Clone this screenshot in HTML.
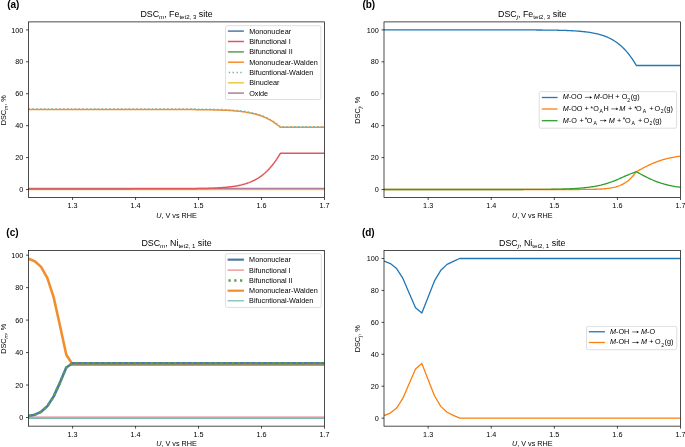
<!DOCTYPE html>
<html><head><meta charset="utf-8"><style>
html,body{margin:0;padding:0;background:#fff;width:685px;height:447px;overflow:hidden}
svg{display:block;will-change:transform}
text{font-family:"Liberation Sans", sans-serif;fill:#000}
</style></head><body>
<svg width="685" height="447" viewBox="0 0 685 447">
<defs><clipPath id="cpa"><rect x="28.5" y="21.9" width="296.00" height="175.60"/></clipPath><clipPath id="cpb"><rect x="384.0" y="21.9" width="296.50" height="175.60"/></clipPath><clipPath id="cpc"><rect x="28.5" y="250.5" width="296.00" height="175.65"/></clipPath><clipPath id="cpd"><rect x="384.0" y="250.5" width="296.50" height="175.65"/></clipPath></defs>
<rect width="685" height="447" fill="#fff"/>
<g clip-path="url(#cpa)">
<polyline points="28.50,189.04 29.76,189.04 31.02,189.04 32.28,189.04 33.54,189.04 34.80,189.04 36.06,189.04 37.32,189.04 38.58,189.04 39.84,189.04 41.10,189.04 42.36,189.04 43.61,189.04 44.87,189.04 46.13,189.04 47.39,189.04 48.65,189.04 49.91,189.04 51.17,189.04 52.43,189.04 53.69,189.04 54.95,189.04 56.21,189.04 57.47,189.04 58.73,189.04 59.99,189.04 61.25,189.04 62.51,189.04 63.77,189.04 65.03,189.04 66.29,189.04 67.55,189.04 68.81,189.04 70.07,189.04 71.33,189.04 72.59,189.04 73.84,189.04 75.10,189.04 76.36,189.04 77.62,189.04 78.88,189.04 80.14,189.04 81.40,189.04 82.66,189.04 83.92,189.04 85.18,189.04 86.44,189.04 87.70,189.04 88.96,189.04 90.22,189.04 91.48,189.04 92.74,189.04 94.00,189.04 95.26,189.04 96.52,189.04 97.78,189.04 99.04,189.04 100.30,189.04 101.56,189.04 102.81,189.04 104.07,189.04 105.33,189.04 106.59,189.04 107.85,189.04 109.11,189.04 110.37,189.04 111.63,189.04 112.89,189.04 114.15,189.04 115.41,189.04 116.67,189.04 117.93,189.04 119.19,189.04 120.45,189.04 121.71,189.04 122.97,189.04 124.23,189.04 125.49,189.04 126.75,189.04 128.01,189.04 129.27,189.04 130.53,189.04 131.79,189.04 133.04,189.04 134.30,189.04 135.56,189.04 136.82,189.04 138.08,189.04 139.34,189.04 140.60,189.04 141.86,189.04 143.12,189.04 144.38,189.04 145.64,189.04 146.90,189.04 148.16,189.04 149.42,189.04 150.68,189.04 151.94,189.04 153.20,189.04 154.46,189.04 155.72,189.04 156.98,189.04 158.24,189.04 159.50,189.04 160.76,189.04 162.01,189.04 163.27,189.04 164.53,189.04 165.79,189.04 167.05,189.04 168.31,189.04 169.57,189.04 170.83,189.04 172.09,189.04 173.35,189.04 174.61,189.04 175.87,189.04 177.13,189.04 178.39,189.04 179.65,189.04 180.91,189.04 182.17,189.04 183.43,189.04 184.69,189.04 185.95,189.04 187.21,189.04 188.47,189.04 189.73,189.04 190.99,189.04 192.24,189.04 193.50,189.04 194.76,189.04 196.02,189.04 197.28,189.04 198.54,189.04 199.80,189.04 201.06,189.04 202.32,189.04 203.58,189.04 204.84,189.04 206.10,189.04 207.36,189.04 208.62,189.04 209.88,189.04 211.14,189.04 212.40,189.04 213.66,189.04 214.92,189.04 216.18,189.04 217.44,189.04 218.70,189.04 219.96,189.04 221.21,189.04 222.47,189.04 223.73,189.04 224.99,189.04 226.25,189.04 227.51,189.04 228.77,189.04 230.03,189.04 231.29,189.04 232.55,189.04 233.81,189.04 235.07,189.04 236.33,189.04 237.59,189.04 238.85,189.04 240.11,189.04 241.37,189.04 242.63,189.04 243.89,189.04 245.15,189.04 246.41,189.04 247.67,189.04 248.93,189.04 250.19,189.04 251.44,189.04 252.70,189.04 253.96,189.04 255.22,189.04 256.48,189.04 257.74,189.04 259.00,189.04 260.26,189.04 261.52,189.04 262.78,189.04 264.04,189.04 265.30,189.04 266.56,189.04 267.82,189.04 269.08,189.04 270.34,189.04 271.60,189.04 272.86,189.04 274.12,189.04 275.38,189.04 276.64,189.04 277.90,189.04 279.16,189.04 280.41,189.04 281.67,189.04 282.93,189.04 284.19,189.04 285.45,189.04 286.71,189.04 287.97,189.04 289.23,189.04 290.49,189.04 291.75,189.04 293.01,189.04 294.27,189.04 295.53,189.04 296.79,189.04 298.05,189.04 299.31,189.04 300.57,189.04 301.83,189.04 303.09,189.04 304.35,189.04 305.61,189.04 306.87,189.04 308.13,189.04 309.39,189.04 310.64,189.04 311.90,189.04 313.16,189.04 314.42,189.04 315.68,189.04 316.94,189.04 318.20,189.04 319.46,189.04 320.72,189.04 321.98,189.04 323.24,189.04 324.50,189.04" fill="none" stroke="#4e79a7" stroke-width="1.5" stroke-linejoin="round" />
<polyline points="28.50,189.04 29.76,189.04 31.02,189.04 32.28,189.04 33.54,189.04 34.80,189.04 36.06,189.04 37.32,189.04 38.58,189.04 39.84,189.04 41.10,189.04 42.36,189.04 43.61,189.04 44.87,189.04 46.13,189.04 47.39,189.04 48.65,189.04 49.91,189.04 51.17,189.04 52.43,189.04 53.69,189.04 54.95,189.04 56.21,189.04 57.47,189.04 58.73,189.04 59.99,189.04 61.25,189.04 62.51,189.04 63.77,189.04 65.03,189.04 66.29,189.04 67.55,189.04 68.81,189.04 70.07,189.04 71.33,189.04 72.59,189.04 73.84,189.04 75.10,189.04 76.36,189.04 77.62,189.04 78.88,189.04 80.14,189.04 81.40,189.04 82.66,189.04 83.92,189.04 85.18,189.04 86.44,189.04 87.70,189.04 88.96,189.04 90.22,189.04 91.48,189.04 92.74,189.04 94.00,189.04 95.26,189.04 96.52,189.04 97.78,189.04 99.04,189.04 100.30,189.04 101.56,189.04 102.81,189.04 104.07,189.04 105.33,189.04 106.59,189.04 107.85,189.04 109.11,189.04 110.37,189.04 111.63,189.04 112.89,189.04 114.15,189.04 115.41,189.04 116.67,189.04 117.93,189.04 119.19,189.04 120.45,189.04 121.71,189.04 122.97,189.04 124.23,189.04 125.49,189.04 126.75,189.04 128.01,189.04 129.27,189.04 130.53,189.04 131.79,189.04 133.04,189.04 134.30,189.04 135.56,189.04 136.82,189.04 138.08,189.04 139.34,189.04 140.60,189.04 141.86,189.04 143.12,189.04 144.38,189.04 145.64,189.04 146.90,189.04 148.16,189.04 149.42,189.04 150.68,189.04 151.94,189.04 153.20,189.04 154.46,189.04 155.72,189.04 156.98,189.04 158.24,189.04 159.50,189.04 160.76,189.04 162.01,189.04 163.27,189.04 164.53,189.04 165.79,189.04 167.05,189.04 168.31,189.04 169.57,189.04 170.83,189.04 172.09,189.04 173.35,189.04 174.61,189.04 175.87,189.04 177.13,189.04 178.39,189.04 179.65,189.04 180.91,189.04 182.17,189.04 183.43,189.04 184.69,189.04 185.95,189.04 187.21,189.04 188.47,189.04 189.73,189.04 190.99,189.04 192.24,189.04 193.50,189.04 194.76,189.04 196.02,189.04 197.28,189.04 198.54,189.04 199.80,189.04 201.06,189.04 202.32,189.04 203.58,189.04 204.84,189.04 206.10,189.04 207.36,189.04 208.62,189.04 209.88,189.04 211.14,189.04 212.40,189.04 213.66,189.04 214.92,189.04 216.18,189.04 217.44,189.04 218.70,189.04 219.96,189.04 221.21,189.04 222.47,189.04 223.73,189.04 224.99,189.04 226.25,189.04 227.51,189.04 228.77,189.04 230.03,189.04 231.29,189.04 232.55,189.04 233.81,189.04 235.07,189.04 236.33,189.04 237.59,189.04 238.85,189.04 240.11,189.04 241.37,189.04 242.63,189.04 243.89,189.04 245.15,189.04 246.41,189.04 247.67,189.04 248.93,189.04 250.19,189.04 251.44,189.04 252.70,189.04 253.96,189.04 255.22,189.04 256.48,189.04 257.74,189.04 259.00,189.04 260.26,189.04 261.52,189.04 262.78,189.04 264.04,189.04 265.30,189.04 266.56,189.04 267.82,189.04 269.08,189.04 270.34,189.04 271.60,189.04 272.86,189.04 274.12,189.04 275.38,189.04 276.64,189.04 277.90,189.04 279.16,189.04 280.41,189.04 281.67,189.04 282.93,189.04 284.19,189.04 285.45,189.04 286.71,189.04 287.97,189.04 289.23,189.04 290.49,189.04 291.75,189.04 293.01,189.04 294.27,189.04 295.53,189.04 296.79,189.04 298.05,189.04 299.31,189.04 300.57,189.04 301.83,189.04 303.09,189.04 304.35,189.04 305.61,189.04 306.87,189.04 308.13,189.04 309.39,189.04 310.64,189.04 311.90,189.04 313.16,189.04 314.42,189.04 315.68,189.04 316.94,189.04 318.20,189.04 319.46,189.04 320.72,189.04 321.98,189.04 323.24,189.04 324.50,189.04" fill="none" stroke="#59a14f" stroke-width="1.5" stroke-linejoin="round" />
<polyline points="28.50,189.60 29.76,189.60 31.02,189.60 32.28,189.60 33.54,189.60 34.80,189.60 36.06,189.60 37.32,189.60 38.58,189.60 39.84,189.60 41.10,189.60 42.36,189.60 43.61,189.60 44.87,189.60 46.13,189.60 47.39,189.60 48.65,189.60 49.91,189.60 51.17,189.60 52.43,189.60 53.69,189.60 54.95,189.60 56.21,189.60 57.47,189.60 58.73,189.60 59.99,189.60 61.25,189.60 62.51,189.60 63.77,189.60 65.03,189.60 66.29,189.60 67.55,189.60 68.81,189.60 70.07,189.60 71.33,189.60 72.59,189.60 73.84,189.60 75.10,189.60 76.36,189.60 77.62,189.60 78.88,189.60 80.14,189.60 81.40,189.60 82.66,189.60 83.92,189.60 85.18,189.60 86.44,189.60 87.70,189.60 88.96,189.60 90.22,189.60 91.48,189.60 92.74,189.60 94.00,189.60 95.26,189.60 96.52,189.60 97.78,189.60 99.04,189.60 100.30,189.60 101.56,189.60 102.81,189.60 104.07,189.60 105.33,189.60 106.59,189.60 107.85,189.60 109.11,189.60 110.37,189.60 111.63,189.60 112.89,189.60 114.15,189.60 115.41,189.60 116.67,189.60 117.93,189.60 119.19,189.60 120.45,189.60 121.71,189.60 122.97,189.60 124.23,189.60 125.49,189.60 126.75,189.60 128.01,189.60 129.27,189.60 130.53,189.60 131.79,189.60 133.04,189.60 134.30,189.60 135.56,189.60 136.82,189.60 138.08,189.60 139.34,189.60 140.60,189.60 141.86,189.60 143.12,189.60 144.38,189.60 145.64,189.60 146.90,189.60 148.16,189.60 149.42,189.60 150.68,189.60 151.94,189.60 153.20,189.60 154.46,189.60 155.72,189.60 156.98,189.60 158.24,189.60 159.50,189.60 160.76,189.60 162.01,189.60 163.27,189.60 164.53,189.60 165.79,189.60 167.05,189.60 168.31,189.60 169.57,189.60 170.83,189.60 172.09,189.60 173.35,189.60 174.61,189.60 175.87,189.60 177.13,189.60 178.39,189.60 179.65,189.60 180.91,189.60 182.17,189.60 183.43,189.60 184.69,189.60 185.95,189.60 187.21,189.60 188.47,189.60 189.73,189.60 190.99,189.60 192.24,189.60 193.50,189.60 194.76,189.60 196.02,189.60 197.28,189.60 198.54,189.60 199.80,189.60 201.06,189.60 202.32,189.60 203.58,189.60 204.84,189.60 206.10,189.60 207.36,189.60 208.62,189.60 209.88,189.60 211.14,189.60 212.40,189.60 213.66,189.60 214.92,189.60 216.18,189.60 217.44,189.60 218.70,189.60 219.96,189.60 221.21,189.60 222.47,189.60 223.73,189.60 224.99,189.60 226.25,189.60 227.51,189.60 228.77,189.60 230.03,189.60 231.29,189.60 232.55,189.60 233.81,189.60 235.07,189.60 236.33,189.60 237.59,189.60 238.85,189.60 240.11,189.60 241.37,189.60 242.63,189.60 243.89,189.60 245.15,189.60 246.41,189.60 247.67,189.60 248.93,189.60 250.19,189.60 251.44,189.60 252.70,189.60 253.96,189.60 255.22,189.60 256.48,189.60 257.74,189.60 259.00,189.60 260.26,189.60 261.52,189.60 262.78,189.60 264.04,189.60 265.30,189.60 266.56,189.60 267.82,189.60 269.08,189.60 270.34,189.60 271.60,189.60 272.86,189.60 274.12,189.60 275.38,189.60 276.64,189.60 277.90,189.60 279.16,189.60 280.41,189.60 281.67,189.60 282.93,189.60 284.19,189.60 285.45,189.60 286.71,189.60 287.97,189.60 289.23,189.60 290.49,189.60 291.75,189.60 293.01,189.60 294.27,189.60 295.53,189.60 296.79,189.60 298.05,189.60 299.31,189.60 300.57,189.60 301.83,189.60 303.09,189.60 304.35,189.60 305.61,189.60 306.87,189.60 308.13,189.60 309.39,189.60 310.64,189.60 311.90,189.60 313.16,189.60 314.42,189.60 315.68,189.60 316.94,189.60 318.20,189.60 319.46,189.60 320.72,189.60 321.98,189.60 323.24,189.60 324.50,189.60" fill="none" stroke="#edc948" stroke-width="1.5" stroke-linejoin="round" />
<polyline points="28.50,188.40 29.76,188.40 31.02,188.40 32.28,188.40 33.54,188.40 34.80,188.40 36.06,188.40 37.32,188.40 38.58,188.40 39.84,188.40 41.10,188.40 42.36,188.40 43.61,188.40 44.87,188.40 46.13,188.40 47.39,188.40 48.65,188.40 49.91,188.40 51.17,188.40 52.43,188.40 53.69,188.40 54.95,188.40 56.21,188.40 57.47,188.40 58.73,188.40 59.99,188.40 61.25,188.40 62.51,188.40 63.77,188.40 65.03,188.40 66.29,188.40 67.55,188.40 68.81,188.40 70.07,188.40 71.33,188.40 72.59,188.40 73.84,188.40 75.10,188.40 76.36,188.40 77.62,188.40 78.88,188.40 80.14,188.40 81.40,188.40 82.66,188.40 83.92,188.40 85.18,188.40 86.44,188.40 87.70,188.40 88.96,188.40 90.22,188.40 91.48,188.40 92.74,188.40 94.00,188.40 95.26,188.40 96.52,188.40 97.78,188.40 99.04,188.40 100.30,188.40 101.56,188.40 102.81,188.40 104.07,188.40 105.33,188.40 106.59,188.40 107.85,188.40 109.11,188.40 110.37,188.40 111.63,188.40 112.89,188.40 114.15,188.40 115.41,188.40 116.67,188.40 117.93,188.40 119.19,188.40 120.45,188.40 121.71,188.40 122.97,188.40 124.23,188.40 125.49,188.40 126.75,188.40 128.01,188.40 129.27,188.40 130.53,188.40 131.79,188.40 133.04,188.40 134.30,188.40 135.56,188.40 136.82,188.40 138.08,188.40 139.34,188.40 140.60,188.40 141.86,188.40 143.12,188.40 144.38,188.40 145.64,188.40 146.90,188.40 148.16,188.40 149.42,188.40 150.68,188.40 151.94,188.40 153.20,188.40 154.46,188.40 155.72,188.40 156.98,188.40 158.24,188.40 159.50,188.40 160.76,188.40 162.01,188.40 163.27,188.40 164.53,188.40 165.79,188.40 167.05,188.40 168.31,188.40 169.57,188.40 170.83,188.40 172.09,188.40 173.35,188.40 174.61,188.40 175.87,188.40 177.13,188.40 178.39,188.40 179.65,188.40 180.91,188.40 182.17,188.40 183.43,188.40 184.69,188.40 185.95,188.40 187.21,188.40 188.47,188.40 189.73,188.40 190.99,188.40 192.24,188.40 193.50,188.40 194.76,188.40 196.02,188.40 197.28,188.40 198.54,188.40 199.80,188.40 201.06,188.40 202.32,188.40 203.58,188.40 204.84,188.40 206.10,188.40 207.36,188.40 208.62,188.40 209.88,188.40 211.14,188.40 212.40,188.40 213.66,188.40 214.92,188.40 216.18,188.40 217.44,188.40 218.70,188.40 219.96,188.40 221.21,188.40 222.47,188.40 223.73,188.40 224.99,188.40 226.25,188.40 227.51,188.40 228.77,188.40 230.03,188.40 231.29,188.40 232.55,188.40 233.81,188.40 235.07,188.40 236.33,188.40 237.59,188.40 238.85,188.40 240.11,188.40 241.37,188.40 242.63,188.40 243.89,188.40 245.15,188.40 246.41,188.40 247.67,188.40 248.93,188.40 250.19,188.40 251.44,188.40 252.70,188.40 253.96,188.40 255.22,188.40 256.48,188.40 257.74,188.40 259.00,188.40 260.26,188.40 261.52,188.40 262.78,188.40 264.04,188.40 265.30,188.40 266.56,188.40 267.82,188.40 269.08,188.40 270.34,188.40 271.60,188.40 272.86,188.40 274.12,188.40 275.38,188.40 276.64,188.40 277.90,188.40 279.16,188.40 280.41,188.40 281.67,188.40 282.93,188.40 284.19,188.40 285.45,188.40 286.71,188.40 287.97,188.40 289.23,188.40 290.49,188.40 291.75,188.40 293.01,188.40 294.27,188.40 295.53,188.40 296.79,188.40 298.05,188.40 299.31,188.40 300.57,188.40 301.83,188.40 303.09,188.40 304.35,188.40 305.61,188.40 306.87,188.40 308.13,188.40 309.39,188.40 310.64,188.40 311.90,188.40 313.16,188.40 314.42,188.40 315.68,188.40 316.94,188.40 318.20,188.40 319.46,188.40 320.72,188.40 321.98,188.40 323.24,188.40 324.50,188.40" fill="none" stroke="#b07aa1" stroke-width="1.5" stroke-linejoin="round" />
<polyline points="28.50,188.88 29.76,188.88 31.02,188.88 32.28,188.88 33.54,188.88 34.80,188.88 36.06,188.88 37.32,188.88 38.58,188.88 39.84,188.88 41.10,188.88 42.36,188.88 43.61,188.88 44.87,188.88 46.13,188.88 47.39,188.88 48.65,188.88 49.91,188.88 51.17,188.88 52.43,188.88 53.69,188.88 54.95,188.88 56.21,188.88 57.47,188.88 58.73,188.88 59.99,188.88 61.25,188.88 62.51,188.88 63.77,188.88 65.03,188.88 66.29,188.88 67.55,188.88 68.81,188.88 70.07,188.88 71.33,188.88 72.59,188.88 73.84,188.88 75.10,188.88 76.36,188.88 77.62,188.88 78.88,188.88 80.14,188.88 81.40,188.88 82.66,188.88 83.92,188.88 85.18,188.88 86.44,188.88 87.70,188.88 88.96,188.88 90.22,188.88 91.48,188.88 92.74,188.88 94.00,188.88 95.26,188.88 96.52,188.88 97.78,188.88 99.04,188.88 100.30,188.88 101.56,188.88 102.81,188.88 104.07,188.88 105.33,188.88 106.59,188.88 107.85,188.88 109.11,188.88 110.37,188.88 111.63,188.88 112.89,188.88 114.15,188.88 115.41,188.88 116.67,188.88 117.93,188.88 119.19,188.88 120.45,188.88 121.71,188.88 122.97,188.88 124.23,188.88 125.49,188.88 126.75,188.88 128.01,188.88 129.27,188.88 130.53,188.88 131.79,188.87 133.04,188.87 134.30,188.87 135.56,188.87 136.82,188.87 138.08,188.87 139.34,188.87 140.60,188.87 141.86,188.87 143.12,188.87 144.38,188.87 145.64,188.87 146.90,188.87 148.16,188.87 149.42,188.87 150.68,188.86 151.94,188.86 153.20,188.86 154.46,188.86 155.72,188.86 156.98,188.86 158.24,188.86 159.50,188.85 160.76,188.85 162.01,188.85 163.27,188.85 164.53,188.84 165.79,188.84 167.05,188.84 168.31,188.83 169.57,188.83 170.83,188.83 172.09,188.82 173.35,188.82 174.61,188.81 175.87,188.81 177.13,188.80 178.39,188.80 179.65,188.79 180.91,188.78 182.17,188.77 183.43,188.77 184.69,188.76 185.95,188.75 187.21,188.73 188.47,188.72 189.73,188.71 190.99,188.70 192.24,188.68 193.50,188.67 194.76,188.65 196.02,188.63 197.28,188.61 198.54,188.59 199.80,188.57 201.06,188.54 202.32,188.51 203.58,188.48 204.84,188.45 206.10,188.42 207.36,188.38 208.62,188.34 209.88,188.29 211.14,188.25 212.40,188.20 213.66,188.14 214.92,188.08 216.18,188.02 217.44,187.95 218.70,187.87 219.96,187.79 221.21,187.71 222.47,187.61 223.73,187.51 224.99,187.40 226.25,187.28 227.51,187.15 228.77,187.01 230.03,186.87 231.29,186.71 232.55,186.53 233.81,186.35 235.07,186.14 236.33,185.93 237.59,185.69 238.85,185.44 240.11,185.17 241.37,184.88 242.63,184.56 243.89,184.22 245.15,183.86 246.41,183.46 247.67,183.04 248.93,182.59 250.19,182.10 251.44,181.58 252.70,181.01 253.96,180.41 255.22,179.77 256.48,179.07 257.74,178.33 259.00,177.54 260.26,176.69 261.52,175.79 262.78,174.82 264.04,173.79 265.30,172.69 266.56,171.53 267.82,170.29 269.08,168.97 270.34,167.57 271.60,166.10 272.86,164.53 274.12,162.89 275.38,161.15 276.64,159.32 277.90,157.40 279.16,155.39 280.41,153.28 281.67,153.28 282.93,153.28 284.19,153.28 285.45,153.28 286.71,153.28 287.97,153.28 289.23,153.28 290.49,153.28 291.75,153.28 293.01,153.28 294.27,153.28 295.53,153.28 296.79,153.28 298.05,153.28 299.31,153.28 300.57,153.28 301.83,153.28 303.09,153.28 304.35,153.28 305.61,153.28 306.87,153.28 308.13,153.28 309.39,153.28 310.64,153.28 311.90,153.28 313.16,153.28 314.42,153.28 315.68,153.28 316.94,153.28 318.20,153.28 319.46,153.28 320.72,153.28 321.98,153.28 323.24,153.28 324.50,153.28" fill="none" stroke="#e15759" stroke-width="1.5" stroke-linejoin="round" />
<polyline points="28.50,109.51 29.76,109.51 31.02,109.51 32.28,109.51 33.54,109.51 34.80,109.51 36.06,109.51 37.32,109.51 38.58,109.51 39.84,109.51 41.10,109.51 42.36,109.51 43.61,109.51 44.87,109.51 46.13,109.51 47.39,109.51 48.65,109.51 49.91,109.51 51.17,109.51 52.43,109.51 53.69,109.51 54.95,109.51 56.21,109.51 57.47,109.51 58.73,109.51 59.99,109.51 61.25,109.51 62.51,109.51 63.77,109.51 65.03,109.51 66.29,109.51 67.55,109.51 68.81,109.51 70.07,109.51 71.33,109.51 72.59,109.51 73.84,109.51 75.10,109.51 76.36,109.51 77.62,109.51 78.88,109.51 80.14,109.51 81.40,109.51 82.66,109.51 83.92,109.51 85.18,109.51 86.44,109.51 87.70,109.51 88.96,109.51 90.22,109.51 91.48,109.51 92.74,109.51 94.00,109.51 95.26,109.51 96.52,109.51 97.78,109.51 99.04,109.51 100.30,109.51 101.56,109.51 102.81,109.51 104.07,109.51 105.33,109.51 106.59,109.51 107.85,109.51 109.11,109.51 110.37,109.51 111.63,109.51 112.89,109.51 114.15,109.51 115.41,109.51 116.67,109.51 117.93,109.51 119.19,109.51 120.45,109.51 121.71,109.51 122.97,109.51 124.23,109.51 125.49,109.51 126.75,109.51 128.01,109.51 129.27,109.51 130.53,109.51 131.79,109.51 133.04,109.51 134.30,109.51 135.56,109.51 136.82,109.51 138.08,109.51 139.34,109.51 140.60,109.51 141.86,109.51 143.12,109.51 144.38,109.51 145.64,109.51 146.90,109.51 148.16,109.51 149.42,109.52 150.68,109.52 151.94,109.52 153.20,109.52 154.46,109.52 155.72,109.52 156.98,109.52 158.24,109.52 159.50,109.52 160.76,109.52 162.01,109.52 163.27,109.52 164.53,109.53 165.79,109.53 167.05,109.53 168.31,109.53 169.57,109.53 170.83,109.53 172.09,109.54 173.35,109.54 174.61,109.54 175.87,109.54 177.13,109.55 178.39,109.55 179.65,109.55 180.91,109.56 182.17,109.56 183.43,109.57 184.69,109.57 185.95,109.58 187.21,109.58 188.47,109.59 189.73,109.59 190.99,109.60 192.24,109.61 193.50,109.62 194.76,109.62 196.02,109.63 197.28,109.64 198.54,109.65 199.80,109.67 201.06,109.68 202.32,109.69 203.58,109.71 204.84,109.72 206.10,109.74 207.36,109.76 208.62,109.78 209.88,109.80 211.14,109.82 212.40,109.85 213.66,109.88 214.92,109.91 216.18,109.94 217.44,109.97 218.70,110.01 219.96,110.05 221.21,110.10 222.47,110.14 223.73,110.19 224.99,110.25 226.25,110.31 227.51,110.37 228.77,110.44 230.03,110.52 231.29,110.60 232.55,110.68 233.81,110.78 235.07,110.88 236.33,110.99 237.59,111.10 238.85,111.23 240.11,111.36 241.37,111.51 242.63,111.67 243.89,111.84 245.15,112.02 246.41,112.22 247.67,112.43 248.93,112.65 250.19,112.90 251.44,113.16 252.70,113.44 253.96,113.74 255.22,114.07 256.48,114.41 257.74,114.78 259.00,115.18 260.26,115.60 261.52,116.05 262.78,116.54 264.04,117.05 265.30,117.60 266.56,118.18 267.82,118.81 269.08,119.46 270.34,120.16 271.60,120.90 272.86,121.68 274.12,122.51 275.38,123.37 276.64,124.29 277.90,125.25 279.16,126.26 280.41,127.31 281.67,127.31 282.93,127.31 284.19,127.31 285.45,127.31 286.71,127.31 287.97,127.31 289.23,127.31 290.49,127.31 291.75,127.31 293.01,127.31 294.27,127.31 295.53,127.31 296.79,127.31 298.05,127.31 299.31,127.31 300.57,127.31 301.83,127.31 303.09,127.31 304.35,127.31 305.61,127.31 306.87,127.31 308.13,127.31 309.39,127.31 310.64,127.31 311.90,127.31 313.16,127.31 314.42,127.31 315.68,127.31 316.94,127.31 318.20,127.31 319.46,127.31 320.72,127.31 321.98,127.31 323.24,127.31 324.50,127.31" fill="none" stroke="#f28e2b" stroke-width="1.5" stroke-linejoin="round" />
<polyline points="28.50,108.98 29.76,108.98 31.02,108.98 32.28,108.98 33.54,108.98 34.80,108.98 36.06,108.98 37.32,108.98 38.58,108.98 39.84,108.98 41.10,108.98 42.36,108.98 43.61,108.98 44.87,108.98 46.13,108.98 47.39,108.98 48.65,108.98 49.91,108.98 51.17,108.98 52.43,108.98 53.69,108.98 54.95,108.98 56.21,108.98 57.47,108.98 58.73,108.98 59.99,108.98 61.25,108.98 62.51,108.98 63.77,108.98 65.03,108.98 66.29,108.98 67.55,108.98 68.81,108.98 70.07,108.98 71.33,108.98 72.59,108.98 73.84,108.98 75.10,108.98 76.36,108.98 77.62,108.98 78.88,108.98 80.14,108.98 81.40,108.98 82.66,108.98 83.92,108.98 85.18,108.98 86.44,108.98 87.70,108.98 88.96,108.98 90.22,108.98 91.48,108.98 92.74,108.98 94.00,108.98 95.26,108.98 96.52,108.98 97.78,108.98 99.04,108.98 100.30,108.98 101.56,108.98 102.81,108.98 104.07,108.98 105.33,108.98 106.59,108.98 107.85,108.98 109.11,108.98 110.37,108.98 111.63,108.98 112.89,108.98 114.15,108.98 115.41,108.98 116.67,108.98 117.93,108.98 119.19,108.98 120.45,108.98 121.71,108.98 122.97,108.98 124.23,108.98 125.49,108.98 126.75,108.98 128.01,108.98 129.27,108.98 130.53,108.98 131.79,108.98 133.04,108.98 134.30,108.98 135.56,108.98 136.82,108.98 138.08,108.99 139.34,108.99 140.60,108.99 141.86,108.99 143.12,108.99 144.38,108.99 145.64,108.99 146.90,108.99 148.16,108.99 149.42,108.99 150.68,108.99 151.94,108.99 153.20,108.99 154.46,108.99 155.72,108.99 156.98,108.99 158.24,108.99 159.50,108.99 160.76,109.00 162.01,109.00 163.27,109.00 164.53,109.00 165.79,109.00 167.05,109.00 168.31,109.00 169.57,109.01 170.83,109.01 172.09,109.01 173.35,109.01 174.61,109.01 175.87,109.02 177.13,109.02 178.39,109.02 179.65,109.03 180.91,109.03 182.17,109.03 183.43,109.04 184.69,109.04 185.95,109.05 187.21,109.05 188.47,109.06 189.73,109.07 190.99,109.07 192.24,109.08 193.50,109.09 194.76,109.10 196.02,109.11 197.28,109.12 198.54,109.13 199.80,109.14 201.06,109.15 202.32,109.17 203.58,109.18 204.84,109.20 206.10,109.21 207.36,109.23 208.62,109.25 209.88,109.27 211.14,109.30 212.40,109.32 213.66,109.35 214.92,109.38 216.18,109.41 217.44,109.45 218.70,109.48 219.96,109.53 221.21,109.57 222.47,109.62 223.73,109.67 224.99,109.72 226.25,109.78 227.51,109.84 228.77,109.91 230.03,109.99 231.29,110.07 232.55,110.16 233.81,110.25 235.07,110.35 236.33,110.46 237.59,110.58 238.85,110.70 240.11,110.84 241.37,110.98 242.63,111.14 243.89,111.31 245.15,111.49 246.41,111.69 247.67,111.90 248.93,112.13 250.19,112.37 251.44,112.63 252.70,112.91 253.96,113.22 255.22,113.54 256.48,113.88 257.74,114.26 259.00,114.65 260.26,115.08 261.52,115.53 262.78,116.01 264.04,116.53 265.30,117.07 266.56,117.66 267.82,118.28 269.08,118.94 270.34,119.63 271.60,120.37 272.86,121.15 274.12,121.98 275.38,122.85 276.64,123.76 277.90,124.72 279.16,125.73 280.41,126.78 281.67,126.78 282.93,126.78 284.19,126.78 285.45,126.78 286.71,126.78 287.97,126.78 289.23,126.78 290.49,126.78 291.75,126.78 293.01,126.78 294.27,126.78 295.53,126.78 296.79,126.78 298.05,126.78 299.31,126.78 300.57,126.78 301.83,126.78 303.09,126.78 304.35,126.78 305.61,126.78 306.87,126.78 308.13,126.78 309.39,126.78 310.64,126.78 311.90,126.78 313.16,126.78 314.42,126.78 315.68,126.78 316.94,126.78 318.20,126.78 319.46,126.78 320.72,126.78 321.98,126.78 323.24,126.78 324.50,126.78" fill="none" stroke="#76b7b2" stroke-width="1.5" stroke-linejoin="round" stroke-dasharray="1.45 2.4"/>
</g>
<g clip-path="url(#cpb)">
<polyline points="384.00,29.88 385.26,29.88 386.52,29.88 387.79,29.88 389.05,29.88 390.31,29.88 391.57,29.88 392.83,29.88 394.09,29.88 395.36,29.88 396.62,29.88 397.88,29.88 399.14,29.88 400.40,29.88 401.66,29.88 402.93,29.88 404.19,29.88 405.45,29.88 406.71,29.88 407.97,29.88 409.23,29.88 410.50,29.88 411.76,29.88 413.02,29.88 414.28,29.88 415.54,29.88 416.80,29.88 418.07,29.88 419.33,29.88 420.59,29.88 421.85,29.88 423.11,29.88 424.37,29.88 425.64,29.88 426.90,29.88 428.16,29.88 429.42,29.88 430.68,29.88 431.94,29.88 433.21,29.88 434.47,29.88 435.73,29.88 436.99,29.88 438.25,29.88 439.51,29.88 440.78,29.88 442.04,29.88 443.30,29.88 444.56,29.88 445.82,29.88 447.09,29.88 448.35,29.88 449.61,29.88 450.87,29.88 452.13,29.88 453.39,29.88 454.66,29.88 455.92,29.88 457.18,29.88 458.44,29.88 459.70,29.88 460.96,29.88 462.23,29.88 463.49,29.88 464.75,29.88 466.01,29.88 467.27,29.88 468.53,29.88 469.80,29.88 471.06,29.88 472.32,29.88 473.58,29.88 474.84,29.88 476.10,29.88 477.37,29.88 478.63,29.88 479.89,29.88 481.15,29.89 482.41,29.89 483.67,29.89 484.94,29.89 486.20,29.89 487.46,29.89 488.72,29.89 489.98,29.89 491.24,29.89 492.51,29.89 493.77,29.89 495.03,29.89 496.29,29.89 497.55,29.89 498.81,29.89 500.08,29.89 501.34,29.89 502.60,29.89 503.86,29.89 505.12,29.90 506.39,29.90 507.65,29.90 508.91,29.90 510.17,29.90 511.43,29.90 512.69,29.90 513.96,29.91 515.22,29.91 516.48,29.91 517.74,29.91 519.00,29.91 520.26,29.92 521.53,29.92 522.79,29.92 524.05,29.93 525.31,29.93 526.57,29.93 527.83,29.94 529.10,29.94 530.36,29.95 531.62,29.95 532.88,29.96 534.14,29.97 535.40,29.97 536.67,29.98 537.93,29.99 539.19,30.00 540.45,30.01 541.71,30.02 542.97,30.03 544.24,30.04 545.50,30.05 546.76,30.06 548.02,30.08 549.28,30.10 550.54,30.11 551.81,30.13 553.07,30.15 554.33,30.17 555.59,30.20 556.85,30.22 558.11,30.25 559.38,30.28 560.64,30.31 561.90,30.35 563.16,30.38 564.42,30.42 565.69,30.47 566.95,30.51 568.21,30.57 569.47,30.62 570.73,30.68 571.99,30.74 573.26,30.81 574.52,30.89 575.78,30.97 577.04,31.06 578.30,31.15 579.56,31.25 580.83,31.36 582.09,31.48 583.35,31.61 584.61,31.75 585.87,31.90 587.13,32.06 588.40,32.23 589.66,32.42 590.92,32.62 592.18,32.84 593.44,33.07 594.70,33.32 595.97,33.59 597.23,33.89 598.49,34.20 599.75,34.54 601.01,34.91 602.27,35.30 603.54,35.72 604.80,36.17 606.06,36.66 607.32,37.19 608.58,37.75 609.84,38.35 611.11,39.00 612.37,39.69 613.63,40.43 614.89,41.22 616.15,42.07 617.41,42.97 618.68,43.94 619.94,44.97 621.20,46.07 622.46,47.23 623.72,48.47 624.99,49.79 626.25,51.19 627.51,52.67 628.77,54.23 630.03,55.88 631.29,57.61 632.56,59.44 633.82,61.36 635.08,63.38 636.34,65.48 637.60,65.48 638.86,65.48 640.13,65.48 641.39,65.48 642.65,65.48 643.91,65.48 645.17,65.48 646.43,65.48 647.70,65.48 648.96,65.48 650.22,65.48 651.48,65.48 652.74,65.48 654.00,65.48 655.27,65.48 656.53,65.48 657.79,65.48 659.05,65.48 660.31,65.48 661.57,65.48 662.84,65.48 664.10,65.48 665.36,65.48 666.62,65.48 667.88,65.48 669.14,65.48 670.41,65.48 671.67,65.48 672.93,65.48 674.19,65.48 675.45,65.48 676.71,65.48 677.98,65.48 679.24,65.48 680.50,65.48" fill="none" stroke="#1f77b4" stroke-width="1.3" stroke-linejoin="round" />
<polyline points="384.00,189.52 385.26,189.52 386.52,189.52 387.79,189.52 389.05,189.52 390.31,189.52 391.57,189.52 392.83,189.52 394.09,189.52 395.36,189.52 396.62,189.52 397.88,189.52 399.14,189.52 400.40,189.52 401.66,189.52 402.93,189.52 404.19,189.52 405.45,189.52 406.71,189.52 407.97,189.52 409.23,189.52 410.50,189.52 411.76,189.52 413.02,189.52 414.28,189.52 415.54,189.52 416.80,189.52 418.07,189.52 419.33,189.52 420.59,189.52 421.85,189.52 423.11,189.52 424.37,189.52 425.64,189.52 426.90,189.52 428.16,189.52 429.42,189.52 430.68,189.52 431.94,189.52 433.21,189.52 434.47,189.52 435.73,189.52 436.99,189.52 438.25,189.52 439.51,189.52 440.78,189.52 442.04,189.52 443.30,189.52 444.56,189.52 445.82,189.52 447.09,189.52 448.35,189.52 449.61,189.52 450.87,189.52 452.13,189.52 453.39,189.52 454.66,189.52 455.92,189.52 457.18,189.52 458.44,189.52 459.70,189.52 460.96,189.52 462.23,189.52 463.49,189.52 464.75,189.52 466.01,189.52 467.27,189.52 468.53,189.52 469.80,189.52 471.06,189.52 472.32,189.52 473.58,189.52 474.84,189.52 476.10,189.52 477.37,189.52 478.63,189.52 479.89,189.52 481.15,189.52 482.41,189.52 483.67,189.52 484.94,189.52 486.20,189.52 487.46,189.52 488.72,189.52 489.98,189.52 491.24,189.52 492.51,189.52 493.77,189.52 495.03,189.52 496.29,189.52 497.55,189.52 498.81,189.52 500.08,189.52 501.34,189.52 502.60,189.52 503.86,189.52 505.12,189.52 506.39,189.52 507.65,189.52 508.91,189.52 510.17,189.52 511.43,189.52 512.69,189.52 513.96,189.52 515.22,189.52 516.48,189.52 517.74,189.52 519.00,189.52 520.26,189.52 521.53,189.52 522.79,189.52 524.05,189.52 525.31,189.52 526.57,189.52 527.83,189.52 529.10,189.52 530.36,189.52 531.62,189.52 532.88,189.52 534.14,189.52 535.40,189.52 536.67,189.52 537.93,189.52 539.19,189.52 540.45,189.52 541.71,189.52 542.97,189.52 544.24,189.52 545.50,189.52 546.76,189.52 548.02,189.52 549.28,189.52 550.54,189.52 551.81,189.52 553.07,189.52 554.33,189.52 555.59,189.52 556.85,189.52 558.11,189.52 559.38,189.51 560.64,189.51 561.90,189.51 563.16,189.51 564.42,189.51 565.69,189.51 566.95,189.51 568.21,189.51 569.47,189.51 570.73,189.50 571.99,189.50 573.26,189.50 574.52,189.50 575.78,189.49 577.04,189.49 578.30,189.48 579.56,189.48 580.83,189.47 582.09,189.46 583.35,189.45 584.61,189.44 585.87,189.43 587.13,189.42 588.40,189.40 589.66,189.38 590.92,189.36 592.18,189.34 593.44,189.31 594.70,189.27 595.97,189.23 597.23,189.19 598.49,189.14 599.75,189.08 601.01,189.01 602.27,188.93 603.54,188.84 604.80,188.73 606.06,188.61 607.32,188.47 608.58,188.32 609.84,188.14 611.11,187.93 612.37,187.70 613.63,187.43 614.89,187.13 616.15,186.79 617.41,186.41 618.68,185.98 619.94,185.49 621.20,184.95 622.46,184.34 623.72,183.67 624.99,182.91 626.25,182.08 627.51,181.15 628.77,180.14 630.03,179.02 631.29,177.79 632.56,176.45 633.82,175.00 635.08,173.42 636.34,171.72 637.60,171.03 638.86,170.34 640.13,169.65 641.39,168.97 642.65,168.30 643.91,167.64 645.17,166.99 646.43,166.35 647.70,165.73 648.96,165.12 650.22,164.54 651.48,163.97 652.74,163.41 654.00,162.88 655.27,162.37 656.53,161.88 657.79,161.41 659.05,160.96 660.31,160.53 661.57,160.12 662.84,159.73 664.10,159.36 665.36,159.02 666.62,158.68 667.88,158.37 669.14,158.08 670.41,157.80 671.67,157.54 672.93,157.29 674.19,157.06 675.45,156.85 676.71,156.65 677.98,156.46 679.24,156.28 680.50,156.11" fill="none" stroke="#ff7f0e" stroke-width="1.3" stroke-linejoin="round" />
<polyline points="384.00,189.52 385.26,189.52 386.52,189.52 387.79,189.52 389.05,189.52 390.31,189.52 391.57,189.52 392.83,189.52 394.09,189.52 395.36,189.52 396.62,189.52 397.88,189.52 399.14,189.52 400.40,189.52 401.66,189.52 402.93,189.52 404.19,189.52 405.45,189.52 406.71,189.52 407.97,189.52 409.23,189.52 410.50,189.52 411.76,189.52 413.02,189.52 414.28,189.52 415.54,189.52 416.80,189.52 418.07,189.52 419.33,189.52 420.59,189.52 421.85,189.52 423.11,189.52 424.37,189.52 425.64,189.52 426.90,189.52 428.16,189.52 429.42,189.52 430.68,189.52 431.94,189.52 433.21,189.52 434.47,189.52 435.73,189.52 436.99,189.52 438.25,189.52 439.51,189.52 440.78,189.52 442.04,189.52 443.30,189.52 444.56,189.52 445.82,189.52 447.09,189.52 448.35,189.52 449.61,189.52 450.87,189.52 452.13,189.52 453.39,189.52 454.66,189.52 455.92,189.52 457.18,189.52 458.44,189.52 459.70,189.52 460.96,189.52 462.23,189.52 463.49,189.52 464.75,189.52 466.01,189.52 467.27,189.52 468.53,189.52 469.80,189.52 471.06,189.52 472.32,189.52 473.58,189.52 474.84,189.52 476.10,189.52 477.37,189.52 478.63,189.52 479.89,189.52 481.15,189.51 482.41,189.51 483.67,189.51 484.94,189.51 486.20,189.51 487.46,189.51 488.72,189.51 489.98,189.51 491.24,189.51 492.51,189.51 493.77,189.51 495.03,189.51 496.29,189.51 497.55,189.51 498.81,189.51 500.08,189.51 501.34,189.51 502.60,189.51 503.86,189.51 505.12,189.50 506.39,189.50 507.65,189.50 508.91,189.50 510.17,189.50 511.43,189.50 512.69,189.50 513.96,189.49 515.22,189.49 516.48,189.49 517.74,189.49 519.00,189.49 520.26,189.48 521.53,189.48 522.79,189.48 524.05,189.47 525.31,189.47 526.57,189.47 527.83,189.46 529.10,189.46 530.36,189.45 531.62,189.45 532.88,189.44 534.14,189.43 535.40,189.43 536.67,189.42 537.93,189.41 539.19,189.40 540.45,189.39 541.71,189.38 542.97,189.37 544.24,189.36 545.50,189.35 546.76,189.34 548.02,189.32 549.28,189.31 550.54,189.29 551.81,189.27 553.07,189.25 554.33,189.23 555.59,189.21 556.85,189.18 558.11,189.15 559.38,189.12 560.64,189.09 561.90,189.06 563.16,189.02 564.42,188.98 565.69,188.94 566.95,188.89 568.21,188.84 569.47,188.79 570.73,188.73 571.99,188.67 573.26,188.61 574.52,188.53 575.78,188.46 577.04,188.37 578.30,188.28 579.56,188.19 580.83,188.08 582.09,187.97 583.35,187.85 584.61,187.73 585.87,187.59 587.13,187.44 588.40,187.29 589.66,187.12 590.92,186.94 592.18,186.75 593.44,186.54 594.70,186.32 595.97,186.09 597.23,185.84 598.49,185.58 599.75,185.30 601.01,185.01 602.27,184.69 603.54,184.36 604.80,184.01 606.06,183.65 607.32,183.26 608.58,182.86 609.84,182.43 611.11,181.99 612.37,181.53 613.63,181.06 614.89,180.56 616.15,180.06 617.41,179.53 618.68,179.00 619.94,178.45 621.20,177.90 622.46,177.34 623.72,176.78 624.99,176.21 626.25,175.65 627.51,175.10 628.77,174.55 630.03,174.02 631.29,173.51 632.56,173.02 633.82,172.56 635.08,172.12 636.34,171.72 637.60,172.41 638.86,173.10 640.13,173.79 641.39,174.47 642.65,175.14 643.91,175.80 645.17,176.45 646.43,177.09 647.70,177.71 648.96,178.31 650.22,178.90 651.48,179.47 652.74,180.02 654.00,180.56 655.27,181.07 656.53,181.56 657.79,182.03 659.05,182.48 660.31,182.91 661.57,183.32 662.84,183.70 664.10,184.07 665.36,184.42 666.62,184.75 667.88,185.06 669.14,185.36 670.41,185.64 671.67,185.90 672.93,186.14 674.19,186.37 675.45,186.59 676.71,186.79 677.98,186.98 679.24,187.16 680.50,187.32" fill="none" stroke="#2ca02c" stroke-width="1.3" stroke-linejoin="round" />
</g>
<g clip-path="url(#cpc)">
<polyline points="28.50,417.17 324.50,417.17" fill="none" stroke="#e15759" stroke-width="1.2" stroke-linejoin="round" stroke-opacity="0.75"/>
<polyline points="28.50,258.73 34.80,261.17 41.10,266.85 47.39,278.21 53.69,297.37 59.99,325.78 66.29,354.83 72.59,364.58 324.50,364.58" fill="none" stroke="#f28e2b" stroke-width="2.6" stroke-linejoin="round" />
<polyline points="28.50,416.04 34.80,414.66 41.10,411.82 47.39,406.13 53.69,396.39 59.99,382.59 66.29,367.50 72.59,363.28 324.50,363.28" fill="none" stroke="#4e79a7" stroke-width="2.6" stroke-linejoin="round" />
<polyline points="28.50,416.04 34.80,414.66 41.10,411.82 47.39,406.13 53.69,396.39 59.99,382.59 66.29,367.50 72.59,363.28 324.50,363.28" fill="none" stroke="#59a14f" stroke-width="2.6" stroke-linejoin="round" stroke-dasharray="2.3 3.5"/>
<polyline points="28.50,418.47 324.50,418.47" fill="none" stroke="#76b7b2" stroke-width="1.2" stroke-linejoin="round" />
</g>
<g clip-path="url(#cpd)">
<polyline points="384.00,261.12 390.31,263.59 396.62,268.54 402.93,278.44 409.23,293.14 415.54,307.75 421.85,313.10 428.16,296.97 434.47,280.92 440.78,270.30 447.09,264.39 453.39,261.36 459.70,258.48 680.50,258.48" fill="none" stroke="#1f77b4" stroke-width="1.3" stroke-linejoin="round" />
<polyline points="384.00,415.53 390.31,413.06 396.62,408.11 402.93,398.21 409.23,383.51 415.54,368.90 421.85,363.55 428.16,379.68 434.47,395.73 440.78,406.35 447.09,412.26 453.39,415.29 459.70,418.17 680.50,418.17" fill="none" stroke="#ff7f0e" stroke-width="1.3" stroke-linejoin="round" />
</g>
<rect x="28.5" y="21.9" width="296.00" height="175.60" fill="none" stroke="#000" stroke-width="0.7"/>
<line x1="72.59" y1="197.5" x2="72.59" y2="200.00" stroke="#000" stroke-width="0.7"/>
<text x="72.59" y="208.10" text-anchor="middle" font-size="7.26">1.3</text>
<line x1="135.56" y1="197.5" x2="135.56" y2="200.00" stroke="#000" stroke-width="0.7"/>
<text x="135.56" y="208.10" text-anchor="middle" font-size="7.26">1.4</text>
<line x1="198.54" y1="197.5" x2="198.54" y2="200.00" stroke="#000" stroke-width="0.7"/>
<text x="198.54" y="208.10" text-anchor="middle" font-size="7.26">1.5</text>
<line x1="261.52" y1="197.5" x2="261.52" y2="200.00" stroke="#000" stroke-width="0.7"/>
<text x="261.52" y="208.10" text-anchor="middle" font-size="7.26">1.6</text>
<line x1="324.50" y1="197.5" x2="324.50" y2="200.00" stroke="#000" stroke-width="0.7"/>
<text x="324.50" y="208.10" text-anchor="middle" font-size="7.26">1.7</text>
<line x1="26.00" y1="189.52" x2="28.5" y2="189.52" stroke="#000" stroke-width="0.7"/>
<text x="23.40" y="192.17" text-anchor="end" font-size="7.26">0</text>
<line x1="26.00" y1="157.59" x2="28.5" y2="157.59" stroke="#000" stroke-width="0.7"/>
<text x="23.40" y="160.24" text-anchor="end" font-size="7.26">20</text>
<line x1="26.00" y1="125.66" x2="28.5" y2="125.66" stroke="#000" stroke-width="0.7"/>
<text x="23.40" y="128.31" text-anchor="end" font-size="7.26">40</text>
<line x1="26.00" y1="93.74" x2="28.5" y2="93.74" stroke="#000" stroke-width="0.7"/>
<text x="23.40" y="96.39" text-anchor="end" font-size="7.26">60</text>
<line x1="26.00" y1="61.81" x2="28.5" y2="61.81" stroke="#000" stroke-width="0.7"/>
<text x="23.40" y="64.46" text-anchor="end" font-size="7.26">80</text>
<line x1="26.00" y1="29.88" x2="28.5" y2="29.88" stroke="#000" stroke-width="0.7"/>
<text x="23.40" y="32.53" text-anchor="end" font-size="7.26">100</text>
<text x="176.50" y="217.70" text-anchor="middle" font-size="7.26"><tspan font-style="italic">U</tspan>, V vs RHE</text>
<text transform="translate(6.0,110.20) rotate(-90)" text-anchor="middle" font-size="7.26">DSC<tspan font-style="italic" font-size="5.08" dy="1.8">m</tspan><tspan dy="-1.8">, %</tspan></text>
<text x="176.50" y="17.30" text-anchor="middle" font-size="8.85">DSC<tspan font-style="italic" font-size="6.10" dy="2.0">m</tspan><tspan dy="-2.0">, Fe</tspan><tspan font-size="6.10" dy="2.0">tet2, 3</tspan><tspan dy="-2.0"> site</tspan></text>
<rect x="384.0" y="21.9" width="296.50" height="175.60" fill="none" stroke="#000" stroke-width="0.7"/>
<line x1="428.16" y1="197.5" x2="428.16" y2="200.00" stroke="#000" stroke-width="0.7"/>
<text x="428.16" y="208.10" text-anchor="middle" font-size="7.26">1.3</text>
<line x1="491.24" y1="197.5" x2="491.24" y2="200.00" stroke="#000" stroke-width="0.7"/>
<text x="491.24" y="208.10" text-anchor="middle" font-size="7.26">1.4</text>
<line x1="554.33" y1="197.5" x2="554.33" y2="200.00" stroke="#000" stroke-width="0.7"/>
<text x="554.33" y="208.10" text-anchor="middle" font-size="7.26">1.5</text>
<line x1="617.41" y1="197.5" x2="617.41" y2="200.00" stroke="#000" stroke-width="0.7"/>
<text x="617.41" y="208.10" text-anchor="middle" font-size="7.26">1.6</text>
<line x1="680.50" y1="197.5" x2="680.50" y2="200.00" stroke="#000" stroke-width="0.7"/>
<text x="680.50" y="208.10" text-anchor="middle" font-size="7.26">1.7</text>
<line x1="381.50" y1="189.52" x2="384.0" y2="189.52" stroke="#000" stroke-width="0.7"/>
<text x="378.90" y="192.17" text-anchor="end" font-size="7.26">0</text>
<line x1="381.50" y1="157.59" x2="384.0" y2="157.59" stroke="#000" stroke-width="0.7"/>
<text x="378.90" y="160.24" text-anchor="end" font-size="7.26">20</text>
<line x1="381.50" y1="125.66" x2="384.0" y2="125.66" stroke="#000" stroke-width="0.7"/>
<text x="378.90" y="128.31" text-anchor="end" font-size="7.26">40</text>
<line x1="381.50" y1="93.74" x2="384.0" y2="93.74" stroke="#000" stroke-width="0.7"/>
<text x="378.90" y="96.39" text-anchor="end" font-size="7.26">60</text>
<line x1="381.50" y1="61.81" x2="384.0" y2="61.81" stroke="#000" stroke-width="0.7"/>
<text x="378.90" y="64.46" text-anchor="end" font-size="7.26">80</text>
<line x1="381.50" y1="29.88" x2="384.0" y2="29.88" stroke="#000" stroke-width="0.7"/>
<text x="378.90" y="32.53" text-anchor="end" font-size="7.26">100</text>
<text x="532.25" y="217.70" text-anchor="middle" font-size="7.26"><tspan font-style="italic">U</tspan>, V vs RHE</text>
<text transform="translate(360.1,110.20) rotate(-90)" text-anchor="middle" font-size="7.26">DSC<tspan font-style="italic" font-size="5.08" dy="1.8">j</tspan><tspan dy="-1.8">, %</tspan></text>
<text x="532.25" y="17.30" text-anchor="middle" font-size="8.85">DSC<tspan font-style="italic" font-size="6.10" dy="2.0">j</tspan><tspan dy="-2.0">, Fe</tspan><tspan font-size="6.10" dy="2.0">tet2, 3</tspan><tspan dy="-2.0"> site</tspan></text>
<rect x="28.5" y="250.5" width="296.00" height="175.65" fill="none" stroke="#000" stroke-width="0.7"/>
<line x1="72.59" y1="426.15" x2="72.59" y2="428.65" stroke="#000" stroke-width="0.7"/>
<text x="72.59" y="436.75" text-anchor="middle" font-size="7.26">1.3</text>
<line x1="135.56" y1="426.15" x2="135.56" y2="428.65" stroke="#000" stroke-width="0.7"/>
<text x="135.56" y="436.75" text-anchor="middle" font-size="7.26">1.4</text>
<line x1="198.54" y1="426.15" x2="198.54" y2="428.65" stroke="#000" stroke-width="0.7"/>
<text x="198.54" y="436.75" text-anchor="middle" font-size="7.26">1.5</text>
<line x1="261.52" y1="426.15" x2="261.52" y2="428.65" stroke="#000" stroke-width="0.7"/>
<text x="261.52" y="436.75" text-anchor="middle" font-size="7.26">1.6</text>
<line x1="324.50" y1="426.15" x2="324.50" y2="428.65" stroke="#000" stroke-width="0.7"/>
<text x="324.50" y="436.75" text-anchor="middle" font-size="7.26">1.7</text>
<line x1="26.00" y1="417.50" x2="28.5" y2="417.50" stroke="#000" stroke-width="0.7"/>
<text x="23.40" y="420.15" text-anchor="end" font-size="7.26">0</text>
<line x1="26.00" y1="385.03" x2="28.5" y2="385.03" stroke="#000" stroke-width="0.7"/>
<text x="23.40" y="387.68" text-anchor="end" font-size="7.26">20</text>
<line x1="26.00" y1="352.56" x2="28.5" y2="352.56" stroke="#000" stroke-width="0.7"/>
<text x="23.40" y="355.21" text-anchor="end" font-size="7.26">40</text>
<line x1="26.00" y1="320.09" x2="28.5" y2="320.09" stroke="#000" stroke-width="0.7"/>
<text x="23.40" y="322.74" text-anchor="end" font-size="7.26">60</text>
<line x1="26.00" y1="287.63" x2="28.5" y2="287.63" stroke="#000" stroke-width="0.7"/>
<text x="23.40" y="290.28" text-anchor="end" font-size="7.26">80</text>
<line x1="26.00" y1="255.16" x2="28.5" y2="255.16" stroke="#000" stroke-width="0.7"/>
<text x="23.40" y="257.81" text-anchor="end" font-size="7.26">100</text>
<text x="176.50" y="446.35" text-anchor="middle" font-size="7.26"><tspan font-style="italic">U</tspan>, V vs RHE</text>
<text transform="translate(6.0,338.82) rotate(-90)" text-anchor="middle" font-size="7.26">DSC<tspan font-style="italic" font-size="5.08" dy="1.8">m</tspan><tspan dy="-1.8">, %</tspan></text>
<text x="176.50" y="245.90" text-anchor="middle" font-size="8.85">DSC<tspan font-style="italic" font-size="6.10" dy="2.0">m</tspan><tspan dy="-2.0">, Ni</tspan><tspan font-size="6.10" dy="2.0">tet2, 1</tspan><tspan dy="-2.0"> site</tspan></text>
<rect x="384.0" y="250.5" width="296.50" height="175.65" fill="none" stroke="#000" stroke-width="0.7"/>
<line x1="428.16" y1="426.15" x2="428.16" y2="428.65" stroke="#000" stroke-width="0.7"/>
<text x="428.16" y="436.75" text-anchor="middle" font-size="7.26">1.3</text>
<line x1="491.24" y1="426.15" x2="491.24" y2="428.65" stroke="#000" stroke-width="0.7"/>
<text x="491.24" y="436.75" text-anchor="middle" font-size="7.26">1.4</text>
<line x1="554.33" y1="426.15" x2="554.33" y2="428.65" stroke="#000" stroke-width="0.7"/>
<text x="554.33" y="436.75" text-anchor="middle" font-size="7.26">1.5</text>
<line x1="617.41" y1="426.15" x2="617.41" y2="428.65" stroke="#000" stroke-width="0.7"/>
<text x="617.41" y="436.75" text-anchor="middle" font-size="7.26">1.6</text>
<line x1="680.50" y1="426.15" x2="680.50" y2="428.65" stroke="#000" stroke-width="0.7"/>
<text x="680.50" y="436.75" text-anchor="middle" font-size="7.26">1.7</text>
<line x1="381.50" y1="418.17" x2="384.0" y2="418.17" stroke="#000" stroke-width="0.7"/>
<text x="378.90" y="420.82" text-anchor="end" font-size="7.26">0</text>
<line x1="381.50" y1="386.23" x2="384.0" y2="386.23" stroke="#000" stroke-width="0.7"/>
<text x="378.90" y="388.88" text-anchor="end" font-size="7.26">20</text>
<line x1="381.50" y1="354.29" x2="384.0" y2="354.29" stroke="#000" stroke-width="0.7"/>
<text x="378.90" y="356.94" text-anchor="end" font-size="7.26">40</text>
<line x1="381.50" y1="322.36" x2="384.0" y2="322.36" stroke="#000" stroke-width="0.7"/>
<text x="378.90" y="325.01" text-anchor="end" font-size="7.26">60</text>
<line x1="381.50" y1="290.42" x2="384.0" y2="290.42" stroke="#000" stroke-width="0.7"/>
<text x="378.90" y="293.07" text-anchor="end" font-size="7.26">80</text>
<line x1="381.50" y1="258.48" x2="384.0" y2="258.48" stroke="#000" stroke-width="0.7"/>
<text x="378.90" y="261.13" text-anchor="end" font-size="7.26">100</text>
<text x="532.25" y="446.35" text-anchor="middle" font-size="7.26"><tspan font-style="italic">U</tspan>, V vs RHE</text>
<text transform="translate(360.1,338.82) rotate(-90)" text-anchor="middle" font-size="7.26">DSC<tspan font-style="italic" font-size="5.08" dy="1.8">j</tspan><tspan dy="-1.8">, %</tspan></text>
<text x="532.25" y="245.90" text-anchor="middle" font-size="8.85">DSC<tspan font-style="italic" font-size="6.10" dy="2.0">j</tspan><tspan dy="-2.0">, Ni</tspan><tspan font-size="6.10" dy="2.0">tet2, 1</tspan><tspan dy="-2.0"> site</tspan></text>
<text x="7.2" y="7.7" font-size="10" font-weight="bold">(a)</text>
<text x="362.4" y="7.7" font-size="10" font-weight="bold">(b)</text>
<text x="6.3" y="236.2" font-size="10" font-weight="bold">(c)</text>
<text x="361.9" y="236.2" font-size="10" font-weight="bold">(d)</text>
<rect x="225.5" y="25.7" width="95.40" height="73.80" rx="1.6" fill="#fff" fill-opacity="0.8" stroke="#d4d4d4" stroke-width="0.75"/>
<line x1="227.9" y1="31.1" x2="243.9" y2="31.1" stroke="#4e79a7" stroke-width="1.5" />
<text x="249.2" y="33.60" font-size="7.26">Mononuclear</text>
<line x1="227.9" y1="41.5" x2="243.9" y2="41.5" stroke="#e15759" stroke-width="1.5" />
<text x="249.2" y="44.00" font-size="7.26">Bifunctional I</text>
<line x1="227.9" y1="51.9" x2="243.9" y2="51.9" stroke="#59a14f" stroke-width="1.5" />
<text x="249.2" y="54.40" font-size="7.26">Bifunctional II</text>
<line x1="227.9" y1="62.2" x2="243.9" y2="62.2" stroke="#f28e2b" stroke-width="1.5" />
<text x="249.2" y="64.70" font-size="7.26">Mononuclear-Walden</text>
<line x1="228.70000000000002" y1="72.5" x2="243.20000000000002" y2="72.5" stroke="#76b7b2" stroke-width="1.5" stroke-dasharray="1.45 2.4"/>
<text x="249.2" y="75.00" font-size="7.26">Bifucntional-Walden</text>
<line x1="227.9" y1="82.8" x2="243.9" y2="82.8" stroke="#edc948" stroke-width="1.5" />
<text x="249.2" y="85.30" font-size="7.26">Binuclear</text>
<line x1="227.9" y1="93.1" x2="243.9" y2="93.1" stroke="#b07aa1" stroke-width="1.5" />
<text x="249.2" y="95.60" font-size="7.26">Oxide</text>
<rect x="225.4" y="253.7" width="95.90" height="53.70" rx="1.6" fill="#fff" fill-opacity="0.8" stroke="#d4d4d4" stroke-width="0.75"/>
<line x1="227.6" y1="259.65" x2="243.9" y2="259.65" stroke="#4e79a7" stroke-width="2.2" />
<text x="249.1" y="262.15" font-size="7.26">Mononuclear</text>
<line x1="227.6" y1="270.1" x2="243.9" y2="270.1" stroke="#e15759" stroke-width="1.2" stroke-opacity="0.75"/>
<text x="249.1" y="272.60" font-size="7.26">Bifunctional I</text>
<line x1="228.4" y1="280.5" x2="243.20000000000002" y2="280.5" stroke="#59a14f" stroke-width="2.6" stroke-dasharray="2.3 3.5"/>
<text x="249.1" y="283.00" font-size="7.26">Bifunctional II</text>
<line x1="227.6" y1="290.7" x2="243.9" y2="290.7" stroke="#f28e2b" stroke-width="2.2" />
<text x="249.1" y="293.20" font-size="7.26">Mononuclear-Walden</text>
<line x1="227.6" y1="300.8" x2="243.9" y2="300.8" stroke="#76b7b2" stroke-width="1.2" />
<text x="249.1" y="303.30" font-size="7.26">Bifucntional-Walden</text>
<rect x="539.2" y="91.6" width="137.40" height="36.60" rx="1.6" fill="#fff" fill-opacity="0.8" stroke="#d4d4d4" stroke-width="0.75"/>
<line x1="541.8" y1="97.5" x2="557.5" y2="97.5" stroke="#1f77b4" stroke-width="1.3" />
<line x1="541.8" y1="109.0" x2="557.5" y2="109.0" stroke="#ff7f0e" stroke-width="1.3" />
<line x1="541.8" y1="120.7" x2="557.5" y2="120.7" stroke="#2ca02c" stroke-width="1.3" />
<text x="562.65" y="99.35" font-size="7.26"><tspan font-style="italic">M</tspan>-OO</text>
<text x="593.85" y="99.35" font-size="7.26"><tspan font-style="italic">M</tspan>-OH</text>
<text x="615.3" y="99.35" font-size="7.26">+</text>
<text x="621.65" y="99.35" font-size="7.26">O</text>
<text x="627.2" y="101.65" font-size="5.1">2</text>
<text x="630.7" y="99.35" font-size="7.26">(g)</text>
<line x1="584.9" y1="97.39999999999999" x2="590.40" y2="97.39999999999999" stroke="#000" stroke-width="0.55"/><path d="M589.70,96.10 L592.00,97.39999999999999 L589.70,98.70 L590.10,97.39999999999999 Z" fill="#000"/>
<text x="562.75" y="110.85" font-size="7.26"><tspan font-style="italic">M</tspan>-OO</text>
<text x="584.5" y="110.85" font-size="7.26">+</text>
<text x="590.60" y="110.65" font-size="6.4">*</text>
<text x="593.35" y="110.85" font-size="7.26">O</text>
<text x="599.6" y="113.15" font-size="5.1">A</text>
<text x="603.6" y="110.85" font-size="7.26">H</text>
<text x="619.3" y="110.85" font-size="7.26"><tspan font-style="italic">M</tspan></text>
<text x="628.1" y="110.85" font-size="7.26">+</text>
<text x="634.30" y="110.65" font-size="6.4">*</text>
<text x="636.1" y="110.85" font-size="7.26">O</text>
<text x="642.7" y="113.15" font-size="5.1">A</text>
<text x="649.2" y="110.85" font-size="7.26">+</text>
<text x="654.5" y="110.85" font-size="7.26">O</text>
<text x="660.7" y="113.15" font-size="5.1">2</text>
<text x="664.0" y="110.85" font-size="7.26">(g)</text>
<line x1="611.3000000000001" y1="108.89999999999999" x2="616.80" y2="108.89999999999999" stroke="#000" stroke-width="0.55"/><path d="M616.10,107.60 L618.40,108.89999999999999 L616.10,110.20 L616.50,108.89999999999999 Z" fill="#000"/>
<text x="562.75" y="122.55" font-size="7.26"><tspan font-style="italic">M</tspan>-O</text>
<text x="579.6" y="122.55" font-size="7.26">+</text>
<text x="584.80" y="122.35" font-size="6.4">*</text>
<text x="586.8" y="122.55" font-size="7.26">O</text>
<text x="593.5" y="124.85" font-size="5.1">A</text>
<text x="608.8" y="122.55" font-size="7.26"><tspan font-style="italic">M</tspan></text>
<text x="617.1" y="122.55" font-size="7.26">+</text>
<text x="622.80" y="122.35" font-size="6.4">*</text>
<text x="625.1" y="122.55" font-size="7.26">O</text>
<text x="631.4" y="124.85" font-size="5.1">A</text>
<text x="638.1" y="122.55" font-size="7.26">+</text>
<text x="643.5" y="122.55" font-size="7.26">O</text>
<text x="649.5" y="124.85" font-size="5.1">2</text>
<text x="652.9" y="122.55" font-size="7.26">(g)</text>
<line x1="600.0" y1="120.6" x2="605.00" y2="120.6" stroke="#000" stroke-width="0.55"/><path d="M604.30,119.30 L606.60,120.6 L604.30,121.90 L604.70,120.6 Z" fill="#000"/>
<rect x="586.5" y="326.4" width="90.30" height="23.30" rx="1.6" fill="#fff" fill-opacity="0.8" stroke="#d4d4d4" stroke-width="0.75"/>
<line x1="588.8" y1="331.75" x2="604.9" y2="331.75" stroke="#1f77b4" stroke-width="1.3" />
<line x1="588.8" y1="342.5" x2="604.9" y2="342.5" stroke="#ff7f0e" stroke-width="1.3" />
<text x="609.95" y="333.9" font-size="7.26"><tspan font-style="italic">M</tspan>-OH</text>
<text x="640.95" y="333.9" font-size="7.26"><tspan font-style="italic">M</tspan>-O</text>
<line x1="632.2" y1="331.95" x2="637.40" y2="331.95" stroke="#000" stroke-width="0.55"/><path d="M636.70,330.65 L639.00,331.95 L636.70,333.25 L637.10,331.95 Z" fill="#000"/>
<text x="609.95" y="344.45" font-size="7.26"><tspan font-style="italic">M</tspan>-OH</text>
<text x="640.95" y="344.45" font-size="7.26"><tspan font-style="italic">M</tspan></text>
<text x="649.2" y="344.45" font-size="7.26">+</text>
<text x="655.1" y="344.45" font-size="7.26">O</text>
<text x="661.3" y="346.75" font-size="5.1">2</text>
<text x="664.5" y="344.45" font-size="7.26">(g)</text>
<line x1="632.2" y1="342.5" x2="637.40" y2="342.5" stroke="#000" stroke-width="0.55"/><path d="M636.70,341.20 L639.00,342.5 L636.70,343.80 L637.10,342.5 Z" fill="#000"/>
</svg>
</body></html>
